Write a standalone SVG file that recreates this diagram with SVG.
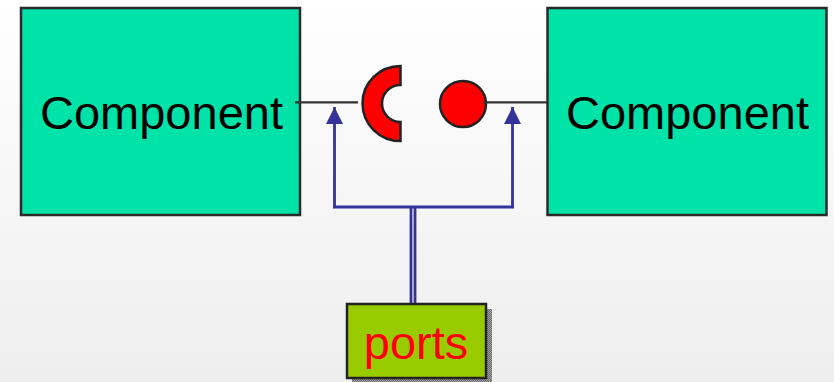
<svg xmlns="http://www.w3.org/2000/svg" width="834" height="382" viewBox="0 0 834 382">
<style>
.comp{fill:#00e3a8;stroke:#2a2a2a;stroke-width:2.500}
.red{fill:#ff0000;stroke:#222;stroke-width:2.500}
.wire{stroke:#333;stroke-width:2.200;fill:none}
.blue{stroke:#333399;stroke-width:2.800;fill:none}
.lbl{font-family:"Liberation Sans",Arial,sans-serif;font-size:47px;text-anchor:middle;fill:#000}
</style>
<defs>
<linearGradient id="bg" x1="0" y1="0" x2="0" y2="1"><stop offset="0" stop-color="#ffffff"/><stop offset="1" stop-color="#eeeeee"/></linearGradient>
<pattern id="dots" width="2" height="2" patternUnits="userSpaceOnUse"><rect width="2" height="2" fill="#6a6a6a"/><rect width="1" height="1" fill="#a0a0a0"/><rect x="1" y="1" width="1" height="1" fill="#a0a0a0"/></pattern>
<marker id="head" markerUnits="userSpaceOnUse" markerWidth="18" markerHeight="18" refX="17" refY="9" orient="auto"><path d="M0 0.500L17 9L0 17.500Z" fill="#333399"/></marker>
</defs>
<rect width="834" height="382" fill="url(#bg)"/>
<g id="component-left">
<rect class="comp" x="21" y="8" width="279" height="207"/>
<text class="lbl" x="161.500" y="129">Component</text>
</g>
<g id="component-right">
<rect class="comp" x="547.500" y="8" width="279" height="207"/>
<text class="lbl" x="687.500" y="129">Component</text>
</g>
<g id="socket">
<path class="red" d="M400.500 66A38 37.500 0 0 0 400.500 141V122A18.500 18.500 0 0 1 400.500 85Z"/>
</g>
<g id="ball">
<circle class="red" cx="463" cy="104" r="23"/>
</g>
<g id="ports">
<path fill="url(#dots)" d="M486 309H492V383H352V378H486Z"/>
<rect x="347" y="304" width="139" height="74" fill="#99cc00" stroke="#222" stroke-width="2.500"/>
<text x="416" y="359" font-family="'Liberation Sans',Arial,sans-serif" font-size="47" text-anchor="middle" fill="#ff0000">ports</text>
</g>
<g id="connectors">
<path class="wire" d="M295 102.300H358"/>
<path class="wire" d="M483 102.300H547"/>
<path class="blue" d="M334.500 207V107" marker-end="url(#head)"/>
<path class="blue" d="M512.500 207V107" marker-end="url(#head)"/>
<path class="blue" d="M333 207H514"/>
<path class="blue" d="M411 207V303M415 207V303" stroke-width="2.500"/>
</g>
</svg>
